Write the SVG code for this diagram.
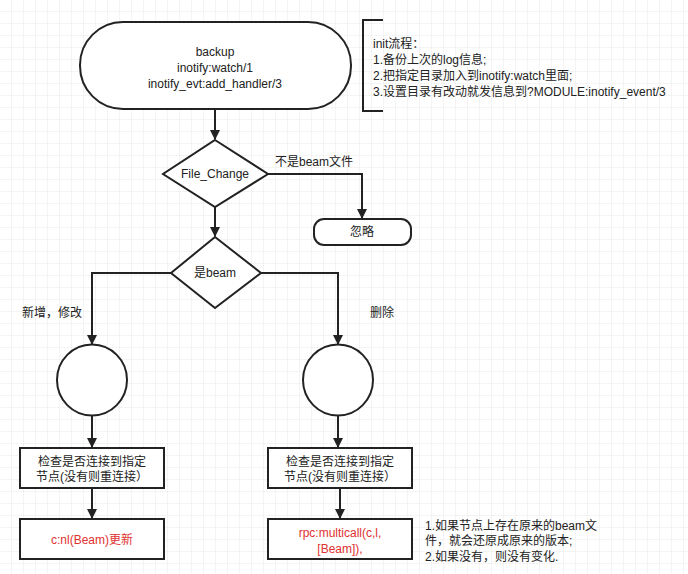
<svg xmlns="http://www.w3.org/2000/svg" width="688" height="574" viewBox="0 0 688 574">
<style>
.s{fill:#fff;stroke:#222;stroke-width:2}
.c{fill:none;stroke:#222;stroke-width:2}
text{font-family:"Liberation Sans","Noto Sans CJK SC",sans-serif;font-size:12px;fill:#222}
.m{text-anchor:middle}
.r{fill:#e03030}
</style>
<defs>
<pattern id="g" width="12" height="12" patternUnits="userSpaceOnUse"><path d="M12 0V12H0" fill="none" stroke="#e8e8e8" stroke-width="1"/></pattern>
<marker id="a" markerWidth="10" markerHeight="10" refX="9" refY="5" orient="auto" markerUnits="userSpaceOnUse"><path d="M0,0L10,5L0,10z" fill="#222"/></marker>
</defs>
<rect width="688" height="574" fill="#fff"/>
<rect width="688" height="574" fill="url(#g)"/>
<g id="connectors">
<path class="c" d="M215,109V139" marker-end="url(#a)"/>
<path class="c" d="M268,174H362V218" marker-end="url(#a)"/>
<path class="c" d="M215,207V236" marker-end="url(#a)"/>
<path class="c" d="M171,273H92V344" marker-end="url(#a)"/>
<path class="c" d="M261,273H338V344" marker-end="url(#a)"/>
<path class="c" d="M92,416V447" marker-end="url(#a)"/>
<path class="c" d="M338,416V447" marker-end="url(#a)"/>
<path class="c" d="M92,488V518" marker-end="url(#a)"/>
<path class="c" d="M340,488V518" marker-end="url(#a)"/>
<text x="275" y="166">不是beam文件</text>
<text x="22" y="317">新增，修改</text>
<text x="370" y="317">删除</text>
</g>
<g id="start"><rect class="s" x="80" y="22" width="271" height="87" rx="43"/>
<text class="m" x="215" y="56">backup</text><text class="m" x="215" y="72">inotify:watch/1</text><text class="m" x="215" y="88">inotify_evt:add_handler/3</text></g>
<g id="note1"><path class="c" d="M383,20H363V111H383"/>
<text x="373" y="48">init流程：</text><text x="373" y="64">1.备份上次的log信息;</text><text x="373" y="80">2.把指定目录加入到inotify:watch里面;</text><text x="373" y="96">3.设置目录有改动就发信息到?MODULE:inotify_event/3</text></g>
<g id="fc"><path class="s" d="M215,140L268,174L215,207L163,174Z"/><text class="m" x="215" y="178">File_Change</text></g>
<g id="ignore"><rect class="s" x="314" y="219" width="97" height="26" rx="10"/><text class="m" x="362" y="236">忽略</text></g>
<g id="isbeam"><path class="s" d="M215,237L261,273L215,308L171,273Z"/><text class="m" x="215" y="277">是beam</text></g>
<g id="c1"><ellipse class="s" cx="92" cy="380" rx="35" ry="35.5"/></g>
<g id="c2"><ellipse class="s" cx="338" cy="380" rx="35" ry="35.5"/></g>
<g id="b1"><rect class="s" x="20" y="448" width="144" height="40"/><text class="m" x="92" y="466">检查是否连接到指定</text><text class="m" x="92" y="481">节点(没有则重连接）</text></g>
<g id="b2"><rect class="s" x="268" y="448" width="144" height="40"/><text class="m" x="340" y="466">检查是否连接到指定</text><text class="m" x="340" y="481">节点(没有则重连接）</text></g>
<g id="b3"><rect class="s" x="20" y="519" width="144" height="40"/><text class="m r" x="92" y="544">c:nl(Beam)更新</text></g>
<g id="b4"><rect class="s" x="268" y="519" width="144" height="40"/><text class="m r" x="340" y="537">rpc:multicall(c,l,</text><text class="m r" x="340" y="553">[Beam]),</text></g>
<g id="note2"><text x="425" y="530">1.如果节点上存在原来的beam文</text><text x="425" y="545">件，就会还原成原来的版本;</text><text x="425" y="561">2.如果没有，则没有变化.</text></g>
</svg>
